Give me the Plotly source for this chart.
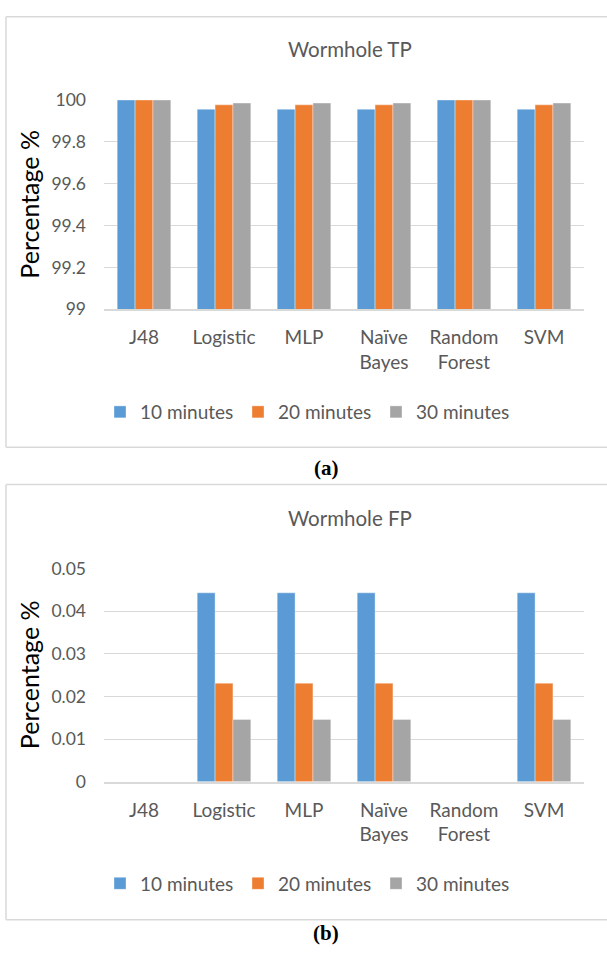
import plotly.graph_objects as go

# ---------------- data ----------------
categories = ["J48", "Logistic", "MLP", "Naïve<br>Bayes", "Random<br>Forest", "SVM"]
series_names = ["10 minutes", "20 minutes", "30 minutes"]
series_colors = ["#5B9BD5", "#ED7D31", "#A5A5A5"]

tp_10 = [100, 99.9557, 99.9557, 99.9557, 100, 99.9557]
tp_20 = [100, 99.9769, 99.9769, 99.9769, 100, 99.9769]
tp_30 = [100, 99.9854, 99.9854, 99.9854, 100, 99.9854]

fp_10 = [0, 0.0443, 0.0443, 0.0443, 0, 0.0443]
fp_20 = [0, 0.0231, 0.0231, 0.0231, 0, 0.0231]
fp_30 = [0, 0.0146, 0.0146, 0.0146, 0, 0.0146]

tp_ticks = [99, 99.2, 99.4, 99.6, 99.8, 100]
tp_ticklabels = ["99", "99.2", "99.4", "99.6", "99.8", "100"]
fp_ticks = [0, 0.01, 0.02, 0.03, 0.04, 0.05]
fp_ticklabels = ["0", "0.01", "0.02", "0.03", "0.04", "0.05"]

# ---------------- layout helpers ----------------
W, H = 607, 959

def px(x):  # page x -> paper
    return x / W

def py(y):  # page y -> paper
    return 1 - y / H

FONT = "Lato, 'Open Sans', sans-serif"
GREY_TXT = "#595959"
GRID = "#D9D9D9"

fig = go.Figure()

for name, vals, col in zip(series_names, [tp_10, tp_20, tp_30], series_colors):
    fig.add_trace(go.Bar(x=categories, y=vals, name=name,
                         marker=dict(color=col, line=dict(color="rgba(255,255,255,0.6)", width=0.6)),
                         xaxis="x", yaxis="y", legend="legend"))
for name, vals, col in zip(series_names, [fp_10, fp_20, fp_30], series_colors):
    fig.add_trace(go.Bar(x=categories, y=vals, name=name,
                         marker=dict(color=col, line=dict(color="rgba(255,255,255,0.6)", width=0.6)),
                         xaxis="x2", yaxis="y2", legend="legend2"))

xcommon = dict(type="category", range=[-0.5, 5.5], showgrid=False, showline=True,
               linecolor=GRID, linewidth=2, ticks="", zeroline=False,
               tickfont=dict(family=FONT, size=19, color=GREY_TXT), ticklabelstandoff=10)
ycommon = dict(showgrid=True, gridcolor=GRID, gridwidth=1.3, zeroline=False, showline=False,
               ticks="", tickfont=dict(family=FONT, size=17.5, color=GREY_TXT), ticklabelstandoff=17)

legend_common = dict(orientation="h", xanchor="left", yanchor="middle",
                     font=dict(family=FONT, size=19, color=GREY_TXT), bgcolor="rgba(0,0,0,0)",
                     entrywidth=93, entrywidthmode="pixels")

fig.update_layout(
    width=W, height=H, autosize=False,
    margin=dict(l=0, r=0, t=0, b=0),
    paper_bgcolor="white", plot_bgcolor="white",
    barmode="group", bargap=0.33, bargroupgap=0,
    xaxis=dict(domain=[px(104), px(584)], anchor="y", **xcommon),
    yaxis=dict(domain=[py(305), py(91)], anchor="x", range=[99, 100],
               tickvals=tp_ticks, ticktext=tp_ticklabels, **ycommon),
    xaxis2=dict(domain=[px(104), px(584)], anchor="y2", **xcommon),
    yaxis2=dict(domain=[py(788), py(570)], anchor="x2", range=[0, 0.05],
                tickvals=fp_ticks, ticktext=fp_ticklabels, **ycommon),
    legend=dict(x=px(100), y=py(410), **legend_common),
    legend2=dict(x=px(100), y=py(892), **legend_common),
    showlegend=True,
)

# panel borders: top, left and bottom edges (the right side runs off the page)
for (y0, y1) in [(6, 446), (484, 929)]:
    for (xa, ya, xb, yb) in [(6, y0, 700, y0), (6, y0, 6, y1), (6, y1, 700, y1)]:
        fig.add_shape(type="line", xref="paper", yref="paper",
                      x0=px(xa), y0=py(ya), x1=px(xb), y1=py(yb),
                      line=dict(color=GRID, width=1.5), layer="below")

# chart titles
for txt, yc in [("Wormhole TP", 39), ("Wormhole FP", 518)]:
    fig.add_annotation(text=txt, x=px(350), y=py(yc), xref="paper", yref="paper",
                       xanchor="center", yanchor="middle", showarrow=False,
                       font=dict(family=FONT, size=20.5, color=GREY_TXT))

# y-axis titles
for yc in [(91 + 305) / 2, (570 + 788) / 2]:
    fig.add_annotation(text="Percentage %", x=px(29), y=py(yc), xref="paper", yref="paper",
                       xanchor="center", yanchor="middle", showarrow=False, textangle=-90,
                       font=dict(family=FONT, size=25, color="#000000"))

# panel labels
for txt, yc in [("<b>(a)</b>", 467), ("<b>(b)</b>", 943)]:
    fig.add_annotation(text=txt, x=px(326), y=py(yc), xref="paper", yref="paper",
                       xanchor="center", yanchor="middle", showarrow=False,
                       font=dict(family="'Liberation Serif', 'Times New Roman', serif", size=21,
                                 color="#000000"))

# remove the default 8px page margin so the 607x959 figure fills the window exactly
fig.write_html("out.html",
               config={"displayModeBar": False},
               post_script="document.body.style.margin='0';document.body.style.overflow='hidden';")
